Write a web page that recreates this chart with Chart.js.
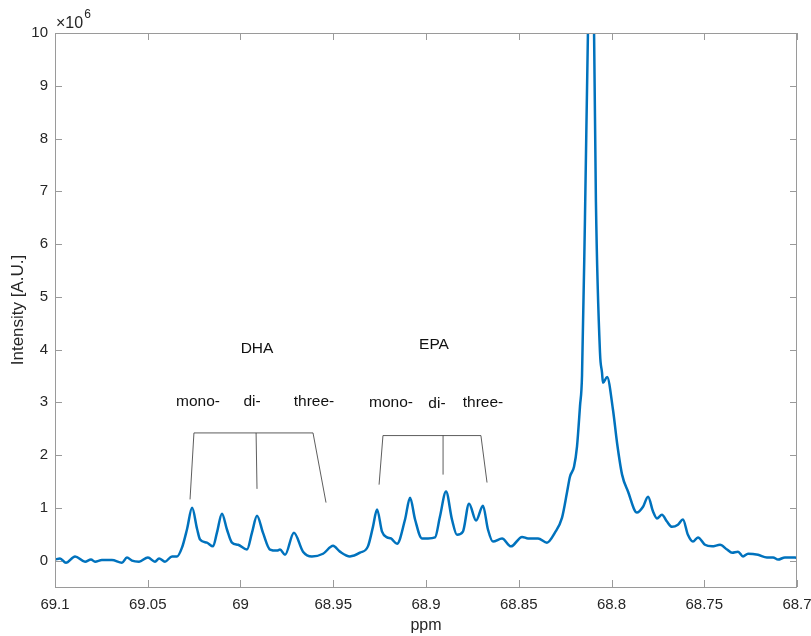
<!DOCTYPE html>
<html>
<head>
<meta charset="utf-8">
<script src="https://cdn.jsdelivr.net/npm/chart.js@4.4.1/dist/chart.umd.min.js"></script>
<style>
  body { margin: 0; background: #fff; }
  canvas { display: block; }
</style>
</head>
<body>
<canvas id="nmrChart" width="811" height="636"></canvas>
<script>
// chemical shift (ppm) and intensity (x10^6)
const ppm = [
  69.1000, 69.0973, 69.0941, 69.0892, 69.0838, 69.0806, 69.0784, 69.0747, 69.0693, 69.0639,
  69.0612, 69.0585, 69.0547, 69.0499, 69.0461, 69.0439, 69.0407, 69.0369, 69.0342, 69.0315,
  69.0288, 69.0261, 69.0234, 69.0218, 69.0181, 69.0148, 69.0127, 69.0100, 69.0073, 69.0046,
  69.0013, 68.9965, 68.9938, 68.9911, 68.9879, 68.9841, 68.9803, 68.9787, 68.9760, 68.9712,
  68.9663, 68.9615, 68.9555, 68.9501, 68.9464, 68.9410, 68.9356, 68.9313, 68.9286, 68.9264,
  68.9237, 68.9210, 68.9189, 68.9156, 68.9113, 68.9086, 68.9059, 68.9022, 68.8989, 68.8951,
  68.8925, 68.8892, 68.8860, 68.8833, 68.8801, 68.8768, 68.8730, 68.8693, 68.8666, 68.8639,
  68.8590, 68.8542, 68.8482, 68.8450, 68.8396, 68.8348, 68.8305, 68.8267, 68.8240, 68.8224,
  68.8202, 68.8186, 68.8170, 68.8159, 68.8143, 68.8127, 68.8111, 68.8094, 68.8084, 68.8062,
  68.8051, 68.8046, 68.8024, 68.7992, 68.7970, 68.7943, 68.7911, 68.7863, 68.7830, 68.7803,
  68.7776, 68.7755, 68.7728, 68.7701, 68.7674, 68.7642, 68.7615, 68.7588, 68.7561, 68.7534,
  68.7496, 68.7458, 68.7415, 68.7377, 68.7350, 68.7318, 68.7291, 68.7264, 68.7210, 68.7162,
  68.7129, 68.7102, 68.7065, 68.7011, 68.7000
];
const intensity = [
  0.02, 0.04, -0.04, 0.08, -0.02, 0.02, -0.02, 0.01, 0.01, -0.04,
  0.06, 0.00, -0.02, 0.06, -0.02, 0.04, -0.02, 0.08, 0.08, 0.25,
  0.60, 1.00, 0.60, 0.40, 0.34, 0.27, 0.53, 0.89, 0.59, 0.34,
  0.30, 0.21, 0.53, 0.85, 0.53, 0.21, 0.19, 0.21, 0.11, 0.53,
  0.17, 0.08, 0.13, 0.28, 0.17, 0.08, 0.15, 0.27, 0.64, 0.97,
  0.55, 0.44, 0.42, 0.32, 0.78, 1.19, 0.78, 0.42, 0.42, 0.44,
  0.83, 1.31, 0.78, 0.49, 0.55, 1.08, 0.76, 1.04, 0.59, 0.36,
  0.42, 0.27, 0.45, 0.42, 0.42, 0.34, 0.53, 0.81, 1.29, 1.59,
  1.78, 2.16, 2.92, 3.50, 6.50, 10.0, 12.5, 10.0, 6.80, 3.94,
  3.56, 3.37, 3.48, 2.86, 2.23, 1.63, 1.31, 0.91, 1.02, 1.21,
  0.93, 0.80, 0.87, 0.74, 0.64, 0.68, 0.78, 0.49, 0.36, 0.44,
  0.30, 0.27, 0.30, 0.21, 0.15, 0.17, 0.08, 0.13, 0.11, 0.06,
  0.06, 0.02, 0.06, 0.06, 0.05
];

const xTickValues = [69.1, 69.05, 69, 68.95, 68.9, 68.85, 68.8, 68.75, 68.7];
const xTickLabels = ['69.1', '69.05', '69', '68.95', '68.9', '68.85', '68.8', '68.75', '68.7'];
const yTickValues = [0, 1, 2, 3, 4, 5, 6, 7, 8, 9, 10];
const yTickLabels = ['0', '1', '2', '3', '4', '5', '6', '7', '8', '9', '10'];

// group labels and brackets, in data units
const groupLabels = [
  { text: 'DHA', x: 68.9911, y: 4.02 },
  { text: 'EPA', x: 68.8957, y: 4.09 },
  { text: 'mono-', x: 69.0229, y: 3.01 },
  { text: 'di-', x: 68.9938, y: 3.01 },
  { text: 'three-', x: 68.9604, y: 3.01 },
  { text: 'mono-', x: 68.9189, y: 2.99 },
  { text: 'di-', x: 68.8941, y: 2.97 },
  { text: 'three-', x: 68.8693, y: 2.99 }
];
const brackets = [
  { y: 2.42, legs: [[69.0251, 69.0272, 1.16], [68.9916, 68.9911, 1.36], [68.9609, 68.9539, 1.10]] },
  { y: 2.37, legs: [[68.9232, 68.9253, 1.44], [68.8908, 68.8908, 1.63], [68.8704, 68.8671, 1.48]] }
];

const FONT = '"Liberation Sans", Arial, Helvetica, sans-serif';
const AXIS_COLOR = '#9a9a9a';
const TEXT_COLOR = '#262626';

const matlabAxes = {
  id: 'matlabAxes',
  afterDraw(chart) {
    const ctx = chart.ctx;
    const a = chart.chartArea;
    const xs = chart.scales.x;
    const ys = chart.scales.y;
    ctx.save();

    // box
    ctx.strokeStyle = AXIS_COLOR;
    ctx.lineWidth = 1;
    ctx.strokeRect(a.left + 0.5, a.top + 0.5, a.right - a.left - 1, a.bottom - a.top);

    // inward ticks on all sides
    const tl = 7;
    ctx.beginPath();
    xTickValues.forEach(v => {
      const px = Math.round(xs.getPixelForValue(v)) + 0.5;
      ctx.moveTo(px, a.bottom); ctx.lineTo(px, a.bottom - tl);
      ctx.moveTo(px, a.top); ctx.lineTo(px, a.top + tl);
    });
    yTickValues.forEach(v => {
      const py = Math.round(ys.getPixelForValue(v)) + 0.5;
      ctx.moveTo(a.left, py); ctx.lineTo(a.left + tl, py);
      ctx.moveTo(a.right, py); ctx.lineTo(a.right - tl, py);
    });
    ctx.stroke();

    // brackets
    ctx.strokeStyle = '#333';
    ctx.lineWidth = 0.8;
    brackets.forEach(b => {
      const by = ys.getPixelForValue(b.y);
      const first = b.legs[0], last = b.legs[b.legs.length - 1];
      ctx.beginPath();
      ctx.moveTo(xs.getPixelForValue(first[0]), by);
      ctx.lineTo(xs.getPixelForValue(last[0]), by);
      b.legs.forEach(l => {
        ctx.moveTo(xs.getPixelForValue(l[0]), by);
        ctx.lineTo(xs.getPixelForValue(l[1]), ys.getPixelForValue(l[2]));
      });
      ctx.stroke();
    });

    // labels
    ctx.fillStyle = '#111';
    ctx.font = '15.5px ' + FONT;
    ctx.textAlign = 'center';
    ctx.textBaseline = 'middle';
    groupLabels.forEach(g => {
      ctx.fillText(g.text, xs.getPixelForValue(g.x), ys.getPixelForValue(g.y));
    });

    // axis titles
    ctx.fillStyle = TEXT_COLOR;
    ctx.font = '16px ' + FONT;
    ctx.fillText('ppm', (a.left + a.right) / 2, 626);
    ctx.save();
    ctx.translate(18, (a.top + a.bottom) / 2);
    ctx.rotate(-Math.PI / 2);
    ctx.font = '17px ' + FONT;
    ctx.fillText('Intensity [A.U.]', 0, 0);
    ctx.restore();

    // exponent
    ctx.textAlign = 'left';
    ctx.textBaseline = 'alphabetic';
    ctx.font = '16px ' + FONT;
    ctx.fillText('\u00d710', 56, 28);
    const w = ctx.measureText('\u00d710').width;
    ctx.font = '12px ' + FONT;
    ctx.fillText('6', 56 + w + 1, 18);

    ctx.restore();
  }
};

new Chart(document.getElementById('nmrChart').getContext('2d'), {
  type: 'line',
  data: {
    datasets: [{
      data: ppm.map((x, i) => ({ x: x, y: intensity[i] })),
      borderColor: '#0072BD',
      borderWidth: 2.5,
      pointRadius: 0,
      cubicInterpolationMode: 'monotone',
      fill: false
    }]
  },
  options: {
    responsive: false,
    animation: false,
    layout: { padding: { top: 33, right: 14, left: 0, bottom: 0 } },
    plugins: {
      legend: { display: false },
      tooltip: { enabled: false }
    },
    scales: {
      x: {
        type: 'linear',
        reverse: true,
        min: 68.7,
        max: 69.1,
        grid: { display: false, drawTicks: false },
        border: { display: false },
        afterBuildTicks: s => { s.ticks = xTickValues.map(v => ({ value: v })); },
        afterFit: s => { s.height = 49; s.paddingLeft = 0; s.paddingRight = 0; },
        ticks: {
          autoSkip: false,
          maxRotation: 0,
          padding: 9,
          color: TEXT_COLOR,
          font: { family: FONT, size: 15 },
          callback: (v, i) => xTickLabels[i]
        }
      },
      y: {
        min: -0.5,
        max: 10,
        grid: { display: false, drawTicks: false },
        border: { display: false },
        afterBuildTicks: s => { s.ticks = yTickValues.map(v => ({ value: v })); },
        afterFit: s => { s.width = 55; s.paddingTop = 0; s.paddingBottom = 0; },
        ticks: {
          padding: 7,
          color: TEXT_COLOR,
          font: { family: FONT, size: 15 },
          callback: (v, i) => yTickLabels[i]
        }
      }
    }
  },
  plugins: [matlabAxes]
});
</script>
</body>
</html>
